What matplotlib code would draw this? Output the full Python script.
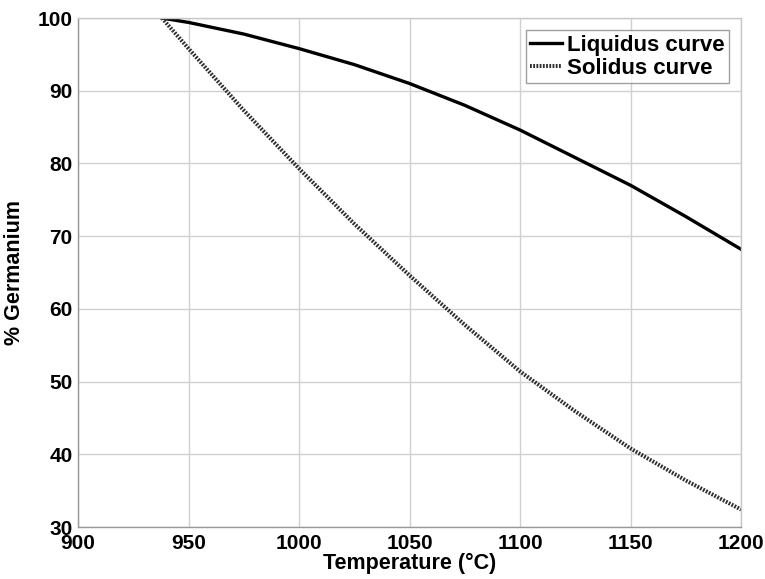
import matplotlib
matplotlib.use("Agg")
import matplotlib.pyplot as plt

temperature = [938, 950, 975, 1000, 1025, 1050, 1075, 1100, 1125, 1150, 1175, 1200]
liquidus = [100.0, 99.4, 97.8, 95.8, 93.6, 91.0, 88.0, 84.6, 80.8, 77.0, 72.7, 68.2]
solidus = [100.0, 95.8, 87.3, 79.3, 71.7, 64.6, 57.8, 51.4, 45.9, 40.8, 36.4, 32.4]
x_ticks = [900, 950, 1000, 1050, 1100, 1150, 1200]
y_ticks = [30, 40, 50, 60, 70, 80, 90, 100]

plt.rcParams['font.family'] = ['Liberation Sans', 'DejaVu Sans']
plt.rcParams['font.weight'] = 'bold'

fig = plt.figure(figsize=(7.65, 5.79), dpi=100)
ax = fig.add_axes([0.102, 0.0898, 0.8667, 0.879])

ax.plot(temperature, liquidus, color='black', lw=2.4, label='Liquidus curve')
ax.plot(temperature, solidus, color='#2e2e2e', lw=2.9, linestyle=(0, (0.45, 0.35)),
        label='Solidus curve')

ax.set_xlim(900, 1200)
ax.set_ylim(30, 100)
ax.set_xticks(x_ticks)
ax.set_yticks(y_ticks)
ax.grid(True, color='#d0d0d0', lw=1)
ax.set_axisbelow(True)
for s in ax.spines.values():
    s.set_color('#999999')
    s.set_linewidth(1)
ax.spines['top'].set_color('#c8c8c8')
ax.spines['right'].set_color('#c8c8c8')
ax.tick_params(length=0, labelsize=15)
ax.tick_params(axis='x', pad=5)
ax.tick_params(axis='y', pad=4)
for lab in ax.get_xticklabels() + ax.get_yticklabels():
    lab.set_fontweight('bold')

ax.set_xlabel('Temperature (°C)', fontsize=15.5, fontweight='bold', labelpad=0)
ax.set_ylabel('% Germanium', fontsize=15.5, fontweight='bold', labelpad=9)

leg = ax.legend(loc='upper right', fontsize=16, frameon=True, fancybox=False,
                edgecolor='#888888', handlelength=1.45, handletextpad=0.2,
                borderpad=0.2, labelspacing=0.1, borderaxespad=0.55)
leg.get_frame().set_linewidth(1)

fig.savefig('out.png', dpi=100)
